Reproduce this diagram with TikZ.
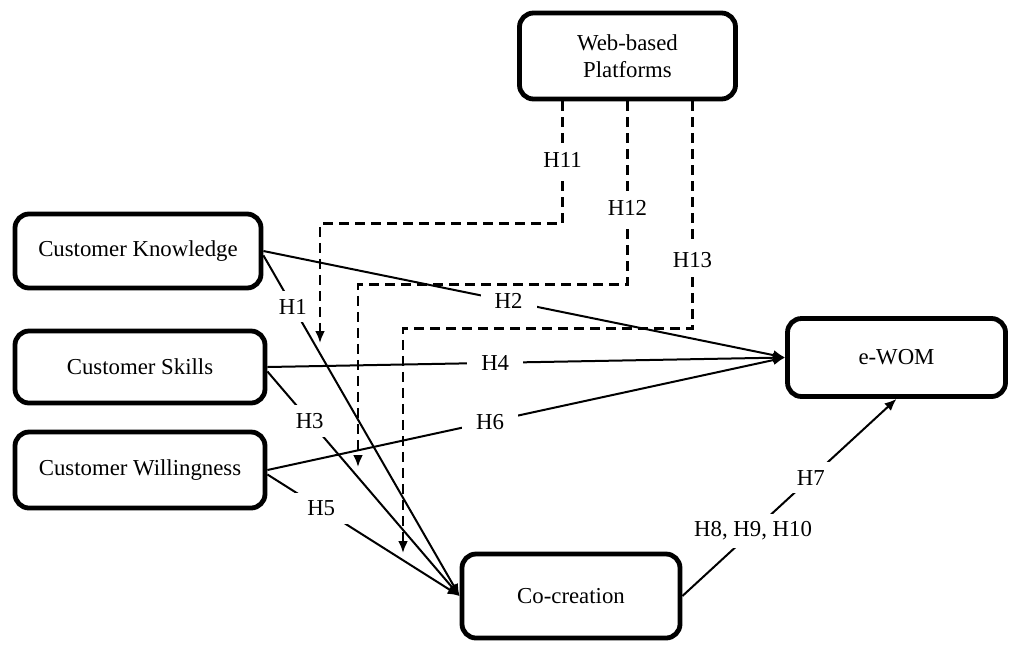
\documentclass[tikz,border=0pt]{standalone}
\usepackage{fontspec}
\setmainfont{Liberation Serif}
\usetikzlibrary{arrows.meta,calc}

\tikzset{
    varbox/.style={draw, line width=2.4pt, rounded corners=7pt, align=center,
        font=\fontsize{11.4}{13.5}\selectfont},
    hyp/.style={fill=white, inner xsep=7pt, inner ysep=4pt, font=\fontsize{11.4}{13.5}\selectfont},
    link/.style={line width=1pt, -{Latex[length=6pt,width=5pt]}},
    moder/.style={line width=1.3pt, dash pattern=on 5pt off 3pt, -{Latex[length=6pt,width=5pt]}},
}

\begin{document}
\begin{tikzpicture}[x=0.5pt, y=-0.5pt]
        \useasboundingbox (0,0) rectangle (1021,644);
        % Draw the constructs.
        \node[varbox, minimum width=108pt, minimum height=43pt] (web) at (627.5,56) {Web-based\\Platforms};
        \node[varbox, minimum width=123pt, minimum height=37pt] (know) at (138,251) {Customer Knowledge};
        \node[varbox, minimum width=125pt, minimum height=36pt] (skill) at (140,367) {Customer Skills};
        \node[varbox, minimum width=125pt, minimum height=38pt] (will) at (140,470) {Customer Willingness};
        \node[varbox, minimum width=109pt, minimum height=39pt] (ewom) at (896.5,357.5) {e-WOM};
        \node[varbox, minimum width=109pt, minimum height=42pt] (cocr) at (571,596) {Co-creation};
        % Ends of the moderating paths.
        \coordinate (m11) at (320,343);
        \coordinate (m12) at (358,467);
        \coordinate (m13) at (403,553);
        % Direct paths to e-WOM.
        \draw[link] (know.east) -- node[hyp, pos=0.47] {H2} (ewom.west);
        \draw[link] (skill.east) -- node[hyp, pos=0.44] {H4} (ewom.west);
        \draw[link] (will.east) -- node[hyp, pos=0.43] {H6} (ewom.west);
        % Paths to co-creation.
        \draw[link] (know.-2) -- node[hyp, pos=0.15] {H1} (cocr.west);
        \draw[link] (skill.-2) -- node[hyp, pos=0.22] {H3} (cocr.west);
        \draw[link] (will.-2) -- node[hyp, pos=0.28] {H5} (cocr.west);
        % Co-creation to e-WOM.
        \draw[link] (cocr.east) -- node[hyp, pos=0.33] {H8, H9, H10}
            node[hyp, pos=0.6] {H7} (ewom.south);
        % Moderating paths.
        \draw[moder] ($(web.south)+(-65,0)$) -- node[hyp, pos=0.48] {H11} ++(0,122) -| (m11);
        \draw[moder] (web.south) -- node[hyp, pos=0.58] {H12} ++(0,183) -| (m12);
        \draw[moder] ($(web.south)+(65,0)$) -- node[hyp, pos=0.70] {H13} ++(0,227) -| (m13);
    \end{tikzpicture}
\end{document}
